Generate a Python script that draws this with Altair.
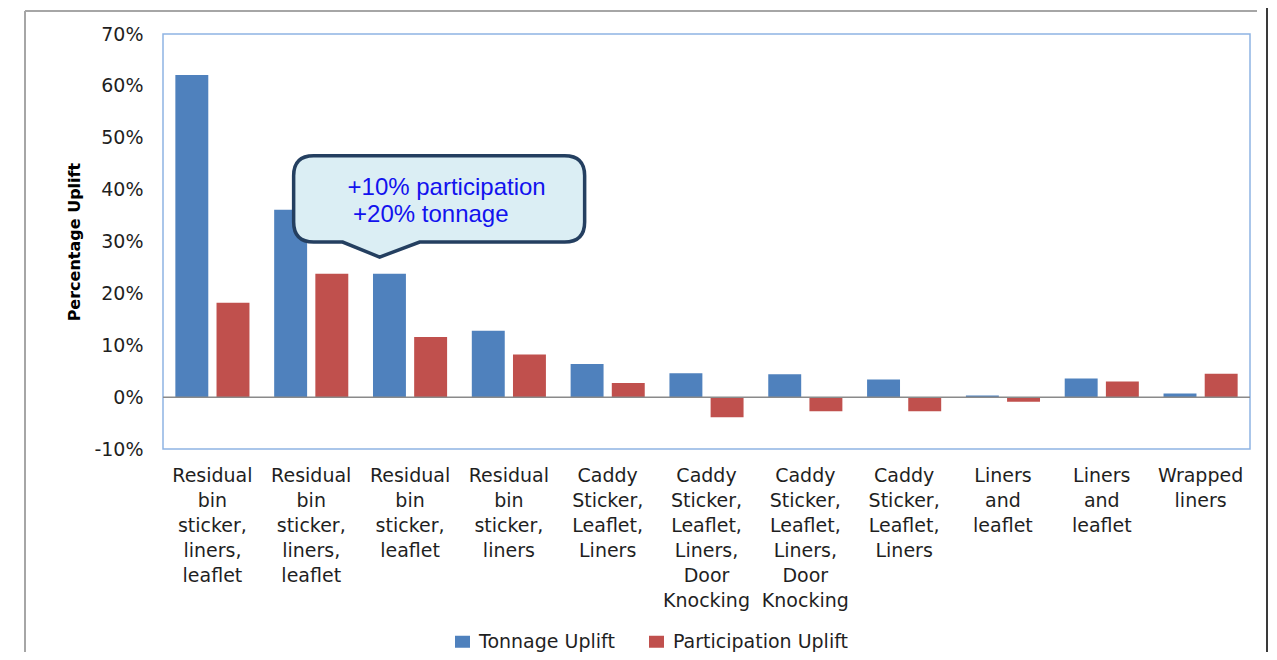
import json
import altair as alt
import pandas as pd

# ---------------- data ----------------
keys = [str(i) for i in range(11)]
category_lines = [
    ["Residual", "bin", "sticker,", "liners,", "leaflet"],
    ["Residual", "bin", "sticker,", "liners,", "leaflet"],
    ["Residual", "bin", "sticker,", "leaflet"],
    ["Residual", "bin", "sticker,", "liners"],
    ["Caddy", "Sticker,", "Leaflet,", "Liners"],
    ["Caddy", "Sticker,", "Leaflet,", "Liners,", "Door", "Knocking"],
    ["Caddy", "Sticker,", "Leaflet,", "Liners,", "Door", "Knocking"],
    ["Caddy", "Sticker,", "Leaflet,", "Liners"],
    ["Liners", "and", "leaflet"],
    ["Liners", "and", "leaflet"],
    ["Wrapped", "liners"],
]
series = ["Tonnage Uplift", "Participation Uplift"]
colors = ["#4f81bd", "#c0504d"]
tonnage = [0.621, 0.361, 0.238, 0.128, 0.064, 0.046, 0.044, 0.034, 0.003, 0.036, 0.007]
participation = [0.182, 0.238, 0.116, 0.082, 0.027, -0.039, -0.027, -0.027, -0.009, 0.030, 0.045]
y_ticks = [-0.1, 0.0, 0.1, 0.2, 0.3, 0.4, 0.5, 0.6, 0.7]

callout_line1 = "+10% participation"
callout_line2 = "+20% tonnage"
callout_key = "2"
callout_tip = 0.27

rows = []
for k, t, p in zip(keys, tonnage, participation):
    rows.append({"key": k, "series": series[0], "value": t})
    rows.append({"key": k, "series": series[1], "value": p})
df = pd.DataFrame(rows)

FONT = "DejaVu Sans"
TXT = "#1f1f1f"

x_enc = alt.X(
    "key:N",
    scale=alt.Scale(domain=keys, paddingInner=0.25, paddingOuter=0.125),
    axis=alt.Axis(
        title=None, labelAngle=0, labelExpr=f"{json.dumps(category_lines)}[toNumber(datum.value)]",
        labelFont=FONT, labelFontSize=19, labelColor=TXT, labelLineHeight=25,
        labelPadding=17, ticks=False, domain=False, labelOverlap=False, labelLimit=300,
    ),
)
y_enc = alt.Y(
    "value:Q",
    scale=alt.Scale(domain=[-0.1, 0.7], nice=False, zero=False),
    axis=alt.Axis(
        values=y_ticks, grid=False, ticks=False, domain=False,
        labelExpr="(datum.value < -0.0001 ? '-' : '') + round(abs(datum.value) * 100) + '%'",
        labelFont=FONT, labelFontSize=19, labelColor=TXT, labelPadding=20,
        title="Percentage Uplift", titleFont=FONT, titleFontSize=16, titleFontWeight="bold",
        titleColor="#000000", titleX=-81, titleY=207.6, titleAngle=-90,
    ),
)

legend_sym = "M-1,-0.8H1V0.8H-1Z"

bars = alt.Chart(df).mark_bar().encode(
    x=x_enc,
    xOffset=alt.XOffset("series:N", scale=alt.Scale(domain=series, paddingInner=0.2, paddingOuter=0)),
    y=y_enc,
    y2=alt.datum(0),
    color=alt.Color(
        "series:N",
        scale=alt.Scale(domain=series, range=colors),
        legend=alt.Legend(
            title=None, orient="none", legendX=290, legendY=598, direction="horizontal",
            symbolType=legend_sym, symbolSize=225, symbolStrokeWidth=0,
            labelFont=FONT, labelFontSize=19, labelColor=TXT, labelOffset=7,
            labelLimit=400, columnPadding=32, padding=0,
        ),
    ),
)

zero_df = pd.DataFrame({"value": [0.0]})
zero_rule = alt.Chart(zero_df).mark_rule(color="#8a8a8a", strokeWidth=1.5).encode(y=y_enc)

# callout bubble (1 path unit = 100 px, origin near the pointer tip)
L, R, T, B, r = -1.164, 1.746, -1.012, -0.15, 0.2
bl, tip_x, br = -0.674, -0.304, 0.096
bubble_path = (
    f"M{L + r},{T} L{R - r},{T} Q{R},{T} {R},{T + r} L{R},{B - r} Q{R},{B} {R - r},{B} "
    f"L{br},{B} L{tip_x},0 L{bl},{B} L{L + r},{B} Q{L},{B} {L},{B - r} L{L},{T + r} Q{L},{T} {L + r},{T} Z"
)
callout_df = pd.DataFrame({"key": [callout_key], "value": [callout_tip]})
bubble = alt.Chart(callout_df).mark_point(
    shape=bubble_path, size=40000, filled=True, fill="#dbeef4", stroke="#243f60",
    strokeWidth=3.5, opacity=1,
).encode(x=x_enc, y=y_enc)
text_style = dict(align="left", baseline="alphabetic", font="Liberation Sans", fontSize=24, color="#1212ee")
bubble_text1 = alt.Chart(callout_df).mark_text(
    text=callout_line1, dx=-62.5, dy=-62, **text_style).encode(x=x_enc, y=y_enc)
bubble_text2 = alt.Chart(callout_df).mark_text(
    text=callout_line2, dx=-57, dy=-35, **text_style).encode(x=x_enc, y=y_enc)

# decorative frame lines of the slide
one = pd.DataFrame({"a": [0]})
frame_top = alt.Chart(one).mark_rule(color="#a6a6a6", strokeWidth=2).encode(
    x=alt.value(-138), x2=alt.value(1094), y=alt.value(-23))
frame_left = alt.Chart(one).mark_rule(color="#a6a6a6", strokeWidth=2).encode(
    x=alt.value(-138), y=alt.value(-23), y2=alt.value(640))
frame_right = alt.Chart(one).mark_rule(color="#3a3a3a", strokeWidth=2).encode(
    x=alt.value(1104), y=alt.value(-40), y2=alt.value(640))

chart = alt.layer(
    frame_top, frame_left, frame_right, bars, zero_rule, bubble, bubble_text1, bubble_text2
).properties(
    width=1087, height=415,
    autosize=alt.AutoSizeParams(type="none"),
    padding={"left": 155, "top": 26, "right": 19, "bottom": 203},
    background="white",
).configure_view(stroke="#8eb4e3", strokeWidth=1.5)

chart.save("out.html", embed_options={"renderer": "svg", "actions": False})
